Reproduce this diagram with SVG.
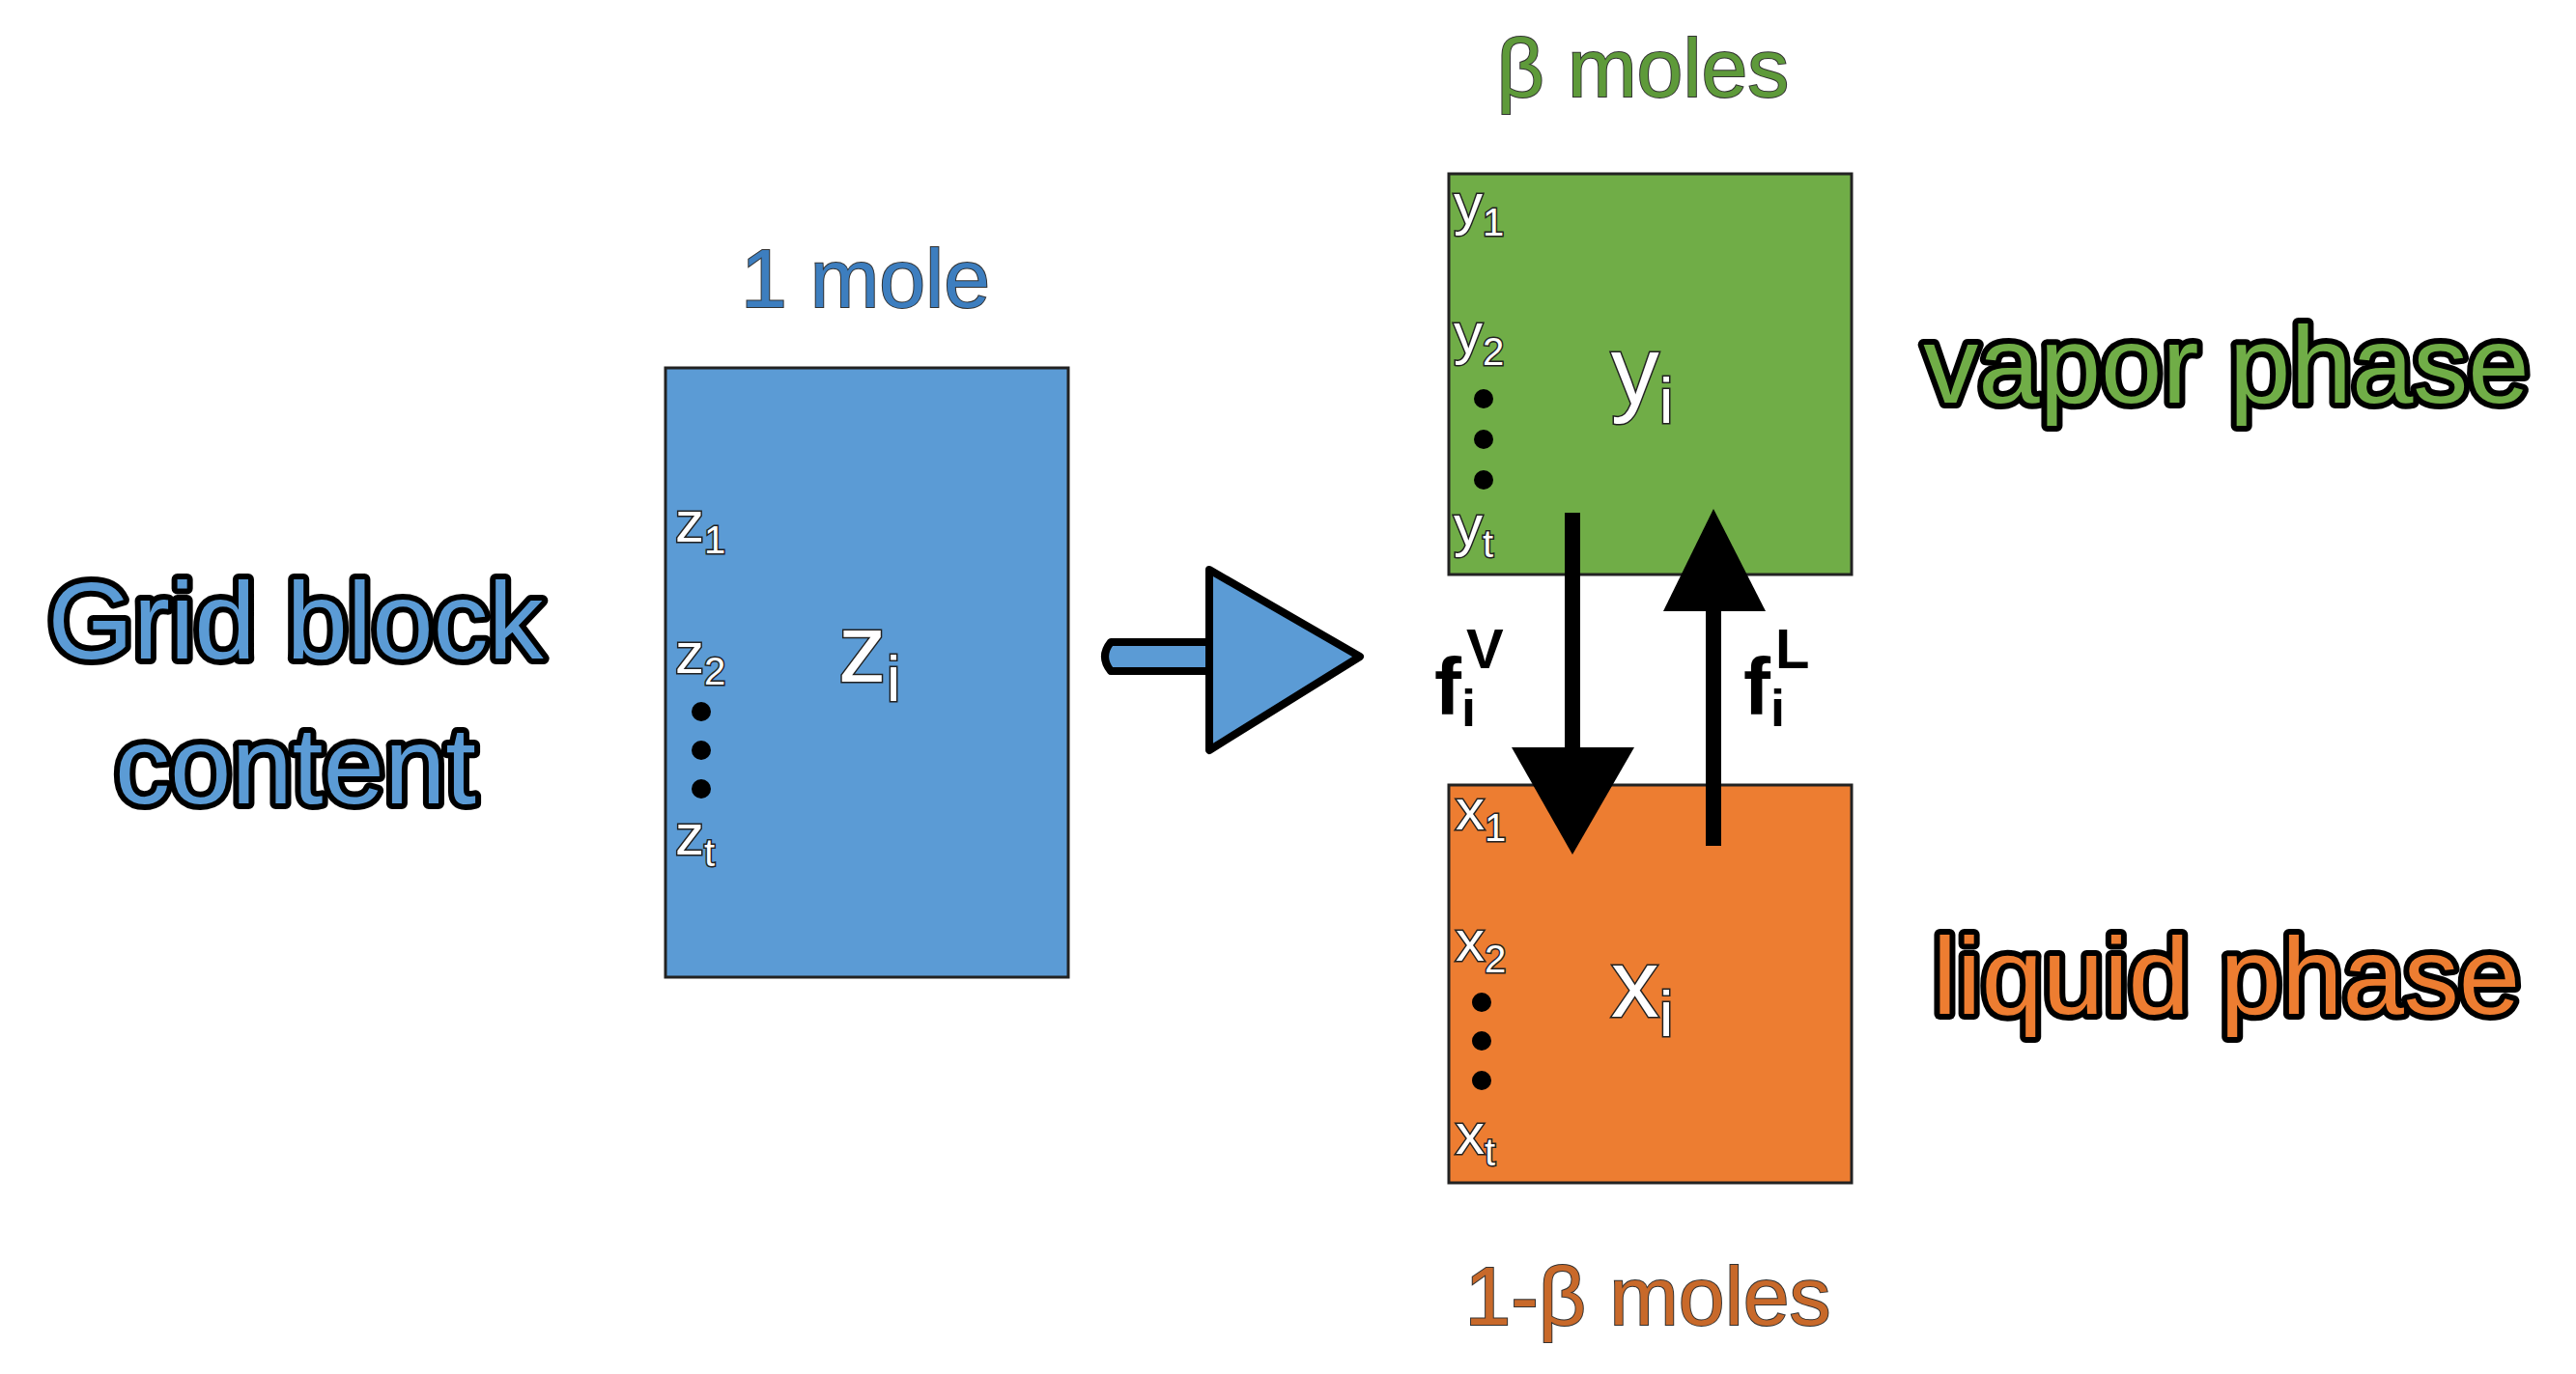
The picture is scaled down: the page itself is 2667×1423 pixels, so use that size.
<svg xmlns="http://www.w3.org/2000/svg" width="2667" height="1423" viewBox="0 0 2667 1423">
<style>
text{font-family:"Liberation Sans",Arial,sans-serif}
.big{font-size:114px;stroke:#000;stroke-width:12px;paint-order:stroke;stroke-linejoin:round;text-anchor:middle}
.ttl{font-size:86px;stroke:#333;stroke-width:2px;paint-order:stroke;text-anchor:middle}
.sub{font-size:60px;fill:#fff;stroke:#222;stroke-width:3px;paint-order:stroke}
.ss{font-size:40px}
.mid{font-size:100px;fill:#fff;stroke:#222;stroke-width:3px;paint-order:stroke;text-anchor:middle}
.f{font-size:84px;font-weight:bold;fill:#000;stroke:#fff;stroke-width:4px;paint-order:stroke}
.box{stroke:#222;stroke-width:3}
</style>
<rect width="2667" height="1423" fill="#fff"/>
<g id="grid-label"><text class="big" x="306" y="682" fill="#5b9bd5">Grid block</text><text class="big" x="306" y="832" fill="#5b9bd5">content</text></g>
<g id="feed">
<rect class="box" x="689" y="381" width="417" height="631" fill="#5b9bd5"/>
<text class="ttl" x="896" y="318" fill="#3d7ebf">1 mole</text>
<text class="sub" x="699" y="561">z<tspan class="ss" dy="12">1</tspan></text>
<text class="sub" x="699" y="697">z<tspan class="ss" dy="12">2</tspan></text>
<circle cx="726" cy="737" r="10"/><circle cx="726" cy="777" r="10"/><circle cx="726" cy="817" r="10"/>
<text class="sub" x="699" y="885">z<tspan class="ss" dy="12">t</tspan></text>
<text class="mid" x="900" y="706">z<tspan font-size="66" dy="20">i</tspan></text>
</g>
<g id="vapor">
<rect class="box" x="1500" y="180" width="417" height="415" fill="#70ad47"/>
<text class="ttl" x="1701" y="100" fill="#5e9a3a">β moles</text>
<text class="sub" x="1505" y="232">y<tspan class="ss" dy="12">1</tspan></text>
<text class="sub" x="1505" y="366">y<tspan class="ss" dy="12">2</tspan></text>
<circle cx="1536" cy="413" r="10"/><circle cx="1536" cy="455" r="10"/><circle cx="1536" cy="497" r="10"/>
<text class="sub" x="1505" y="565">y<tspan class="ss" dy="12">t</tspan></text>
<text class="mid" x="1700" y="418">y<tspan font-size="66" dy="20">i</tspan></text>
<text class="big" x="2305" y="417" fill="#70ad47">vapor phase</text>
</g>
<g id="liquid">
<rect class="box" x="1500" y="813" width="417" height="412" fill="#ed7d31"/>
<text class="ttl" x="1706" y="1372" fill="#c8692a">1-β moles</text>
<text class="sub" x="1507" y="859">x<tspan class="ss" dy="12">1</tspan></text>
<text class="sub" x="1507" y="995">x<tspan class="ss" dy="12">2</tspan></text>
<circle cx="1534" cy="1038" r="10"/><circle cx="1534" cy="1078" r="10"/><circle cx="1534" cy="1119" r="10"/>
<text class="sub" x="1507" y="1195">x<tspan class="ss" dy="12">t</tspan></text>
<text class="mid" x="1700" y="1053">x<tspan font-size="66" dy="20">i</tspan></text>
<text class="big" x="2305" y="1050" fill="#ed7d31">liquid phase</text>
</g>
<g id="connectors">
<path d="M1150,665 H1262 V695 H1150 Q1138,680 1150,665 Z" fill="#5b9bd5" stroke="#000" stroke-width="8" stroke-linejoin="round"/>
<path d="M1252,590 L1408,680 L1252,777 Z" fill="#5b9bd5" stroke="#000" stroke-width="8" stroke-linejoin="round"/>
<line x1="1628" y1="531" x2="1628" y2="790" stroke="#000" stroke-width="16"/>
<path d="M1565,774 L1692,774 L1628,885 Z" fill="#000"/>
<line x1="1774" y1="876" x2="1774" y2="620" stroke="#000" stroke-width="16"/>
<path d="M1722,633 L1828,633 L1774,527 Z" fill="#000"/>
<text class="f" x="1485" y="740">f<tspan font-size="54" dy="12">i</tspan><tspan font-size="58" dx="-10" dy="-60">V</tspan></text>
<text class="f" x="1805" y="740">f<tspan font-size="54" dy="12">i</tspan><tspan font-size="58" dx="-10" dy="-60">L</tspan></text>
</g>
</svg>
